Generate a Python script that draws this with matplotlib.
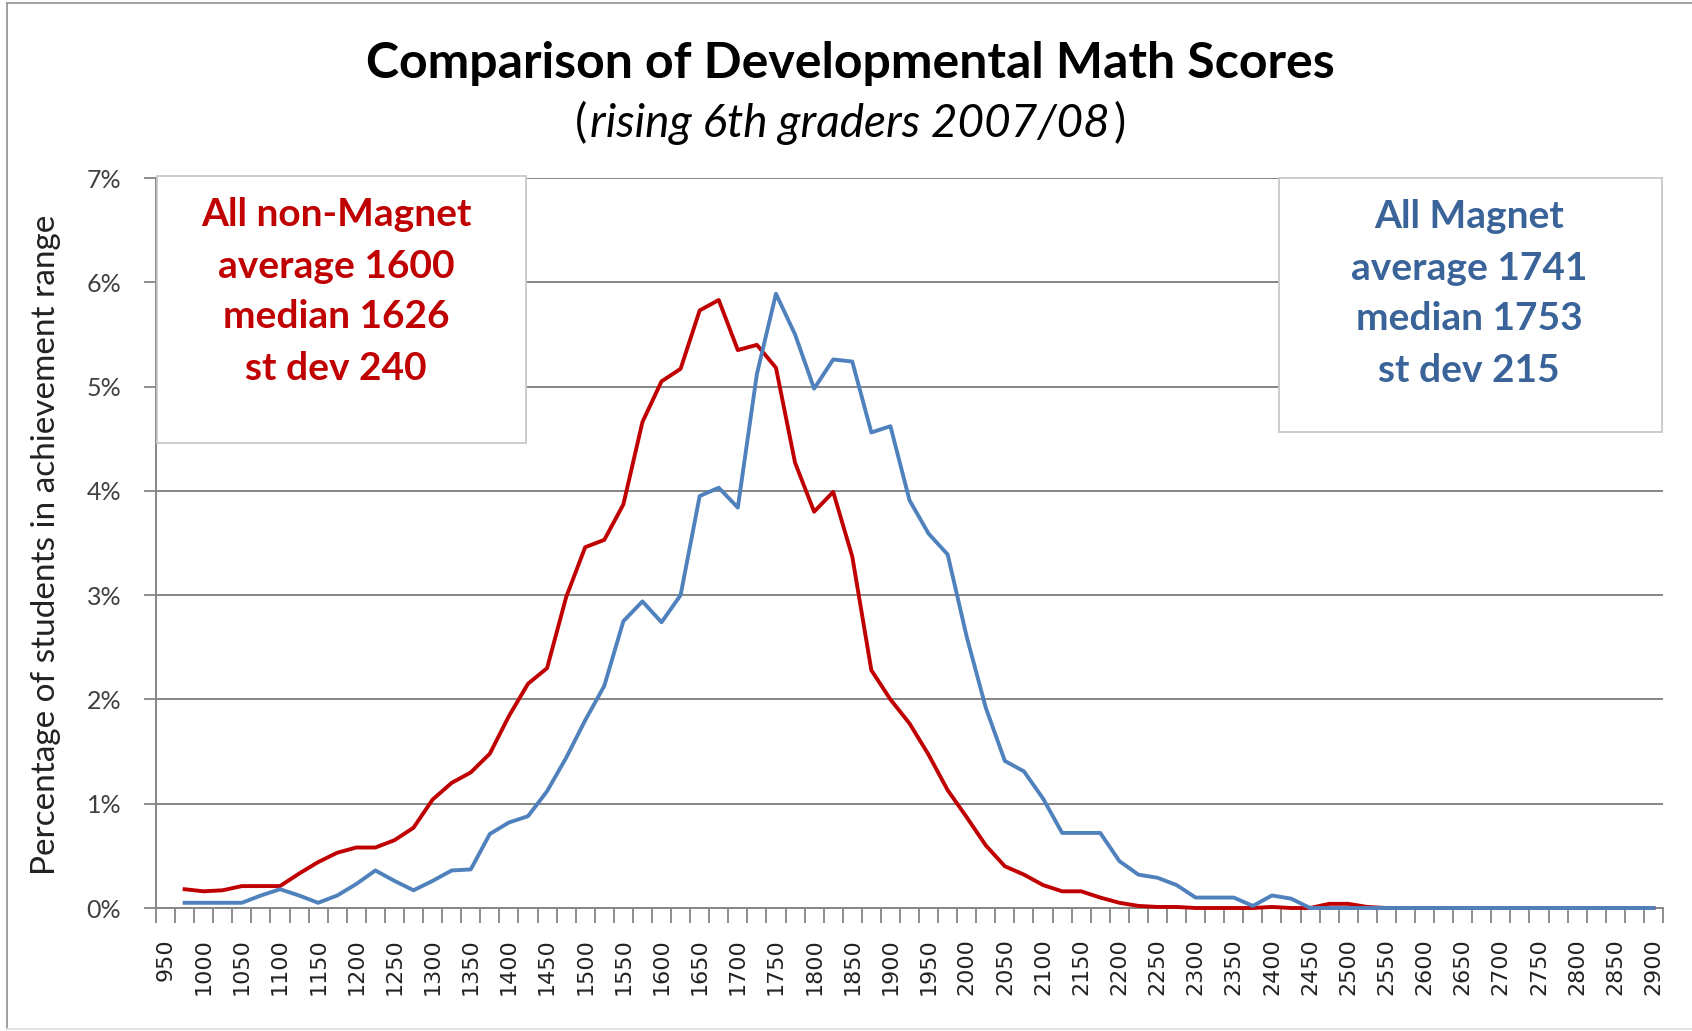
import matplotlib
matplotlib.use('Agg')
import matplotlib.pyplot as plt
import numpy as np
from matplotlib.lines import Line2D

plt.rcParams['font.family'] = ['Lato', 'DejaVu Sans']

# score bins (category axis), 950 .. 2900 step 25
score_bins = list(range(950, 2901, 25))

# percentage of students per bin, 950 bin is empty
non_magnet = [None, 0.18, 0.16, 0.17, 0.21, 0.21, 0.21, 0.33, 0.44, 0.53,
              0.58, 0.58, 0.65, 0.77, 1.04, 1.20, 1.30, 1.48, 1.84, 2.15,
              2.30, 2.98, 3.46, 3.53, 3.87, 4.66, 5.05, 5.17, 5.73, 5.83,
              5.35, 5.40, 5.18, 4.27, 3.80, 3.99, 3.37, 2.28, 2.00, 1.77,
              1.47, 1.13, 0.87, 0.60, 0.40, 0.32, 0.22, 0.16, 0.16, 0.10,
              0.05, 0.02, 0.01, 0.01, 0.0, 0.0, 0.0, 0.0, 0.01, 0.0,
              0.0, 0.04, 0.04, 0.01, 0.0, 0.0, 0.0, 0.0, 0.0, 0.0,
              0.0, 0.0, 0.0, 0.0, 0.0, 0.0, 0.0, 0.0, 0.0]
magnet = [None, 0.05, 0.05, 0.05, 0.05, 0.12, 0.18, 0.12, 0.05, 0.12,
          0.23, 0.36, 0.26, 0.17, 0.26, 0.36, 0.37, 0.71, 0.82, 0.88,
          1.12, 1.44, 1.80, 2.13, 2.75, 2.94, 2.74, 3.00, 3.95, 4.03,
          3.84, 5.12, 5.89, 5.50, 4.98, 5.26, 5.24, 4.56, 4.62, 3.91,
          3.59, 3.39, 2.60, 1.92, 1.41, 1.31, 1.05, 0.72, 0.72, 0.72,
          0.45, 0.32, 0.29, 0.22, 0.10, 0.10, 0.10, 0.02, 0.12, 0.09,
          0.0, 0.0, 0.0, 0.0, 0.0, 0.0, 0.0, 0.0, 0.0, 0.0,
          0.0, 0.0, 0.0, 0.0, 0.0, 0.0, 0.0, 0.0, 0.0]

y_ticks = [0, 1, 2, 3, 4, 5, 6, 7]

red = '#C00000'
blue = '#4F81BD'
blue_text = '#3A6499'
grey = '#868686'

W, H = 1692, 1031
fig = plt.figure(figsize=(W / 100, H / 100), dpi=100)


def fx(px):
    return px / W


def fy(py):
    return 1 - py / H


ax = fig.add_axes([fx(156), fy(908), fx(1663) - fx(156), fy(178) - fy(908)])

x = np.arange(len(score_bins))
nm = np.array([np.nan if v is None else v for v in non_magnet])
mg = np.array([np.nan if v is None else v for v in magnet])
ax.plot(x, nm, color=red, lw=2.8, solid_joinstyle='round', clip_on=False, zorder=3)
ax.plot(x, mg, color=blue, lw=2.8, solid_joinstyle='round', clip_on=False, zorder=4)

ax.set_xlim(-0.5, len(score_bins) - 0.5)
ax.set_ylim(0, 7)

# tick marks between categories, labels every other category
ax.set_xticks(np.arange(-0.5, len(score_bins), 1))
ax.set_xticklabels([])
ax.set_xticks(x[::2], minor=True)
ax.set_xticklabels([str(s) for s in score_bins[::2]], minor=True,
                   rotation=90, fontsize=16, color='#222222',
                   family=['DejaVu Sans'])
ax.tick_params(axis='x', which='major', length=11, width=1.3, color=grey,
               direction='out')
ax.tick_params(axis='x', which='minor', length=0, pad=22)

ax.set_yticks(y_ticks)
ax.set_yticklabels([f'{v}%' for v in y_ticks], fontsize=18, color='#404040')
ax.tick_params(axis='y', length=9, width=1.3, color=grey, pad=16)

ax.yaxis.grid(True, color=grey, lw=1.4)
ax.set_axisbelow(True)
for s in ['top', 'right']:
    ax.spines[s].set_visible(False)
for s in ['left', 'bottom']:
    ax.spines[s].set_color(grey)
    ax.spines[s].set_linewidth(1.4)

# y axis title
fig.text(fx(46), fy(545), 'Percentage of students in achievement range',
         rotation=90, ha='center', va='center', fontsize=24, color='#222222')

# titles
fig.text(fx(850), fy(63), 'Comparison of Developmental Math Scores',
         ha='center', va='center', fontsize=36, fontweight='bold')
sub = fig.text(fx(850), fy(137), 'rising 6th graders 2007/08', ha='center',
               va='baseline', fontsize=33, style='italic')
fig.canvas.draw()
bb = sub.get_window_extent()
fig.text(bb.x0 / fig.bbox.width - 0.002, fy(137), '(', ha='right',
         va='baseline', fontsize=33)
fig.text(bb.x1 / fig.bbox.width + 0.002, fy(137), ')', ha='left',
         va='baseline', fontsize=33)

# stat boxes
stat_boxes = [
    ((156.6, 176, 525.5, 442.5), red, 336,
     ['All non-Magnet', 'average 1600', 'median 1626', 'st dev 240'],
     [215, 266, 317, 368]),
    ((1279, 178, 1662, 432), blue_text, 1469,
     ['All Magnet', 'average 1741', 'median 1753', 'st dev 215'],
     [217, 268, 319, 370]),
]
for (x0, y0, x1, y1), col, cx, lines, ys in stat_boxes:
    fig.patches.append(plt.Rectangle((fx(x0), fy(y1)), fx(x1) - fx(x0),
                                     fy(y0) - fy(y1), transform=fig.transFigure,
                                     facecolor='white', edgecolor='#C8C8C8',
                                     lw=1.3, zorder=5))
    for t, yy in zip(lines, ys):
        fig.text(fx(cx), fy(yy), t, ha='center', va='center', fontsize=28,
                 fontweight='bold', color=col, zorder=6)

# chart area border (left, top, bottom)
border = '#9A9A9A'
fig.lines.append(Line2D([fx(7), fx(7)], [fy(3), fy(1029)], transform=fig.transFigure,
                        color=border, lw=1.3))
fig.lines.append(Line2D([fx(7), 1], [fy(3), fy(3)], transform=fig.transFigure,
                        color=border, lw=1.3))
fig.lines.append(Line2D([fx(7), 1], [fy(1029), fy(1029)], transform=fig.transFigure,
                        color='#E0E0E0', lw=1.3))

fig.savefig('out.png', dpi=100)
